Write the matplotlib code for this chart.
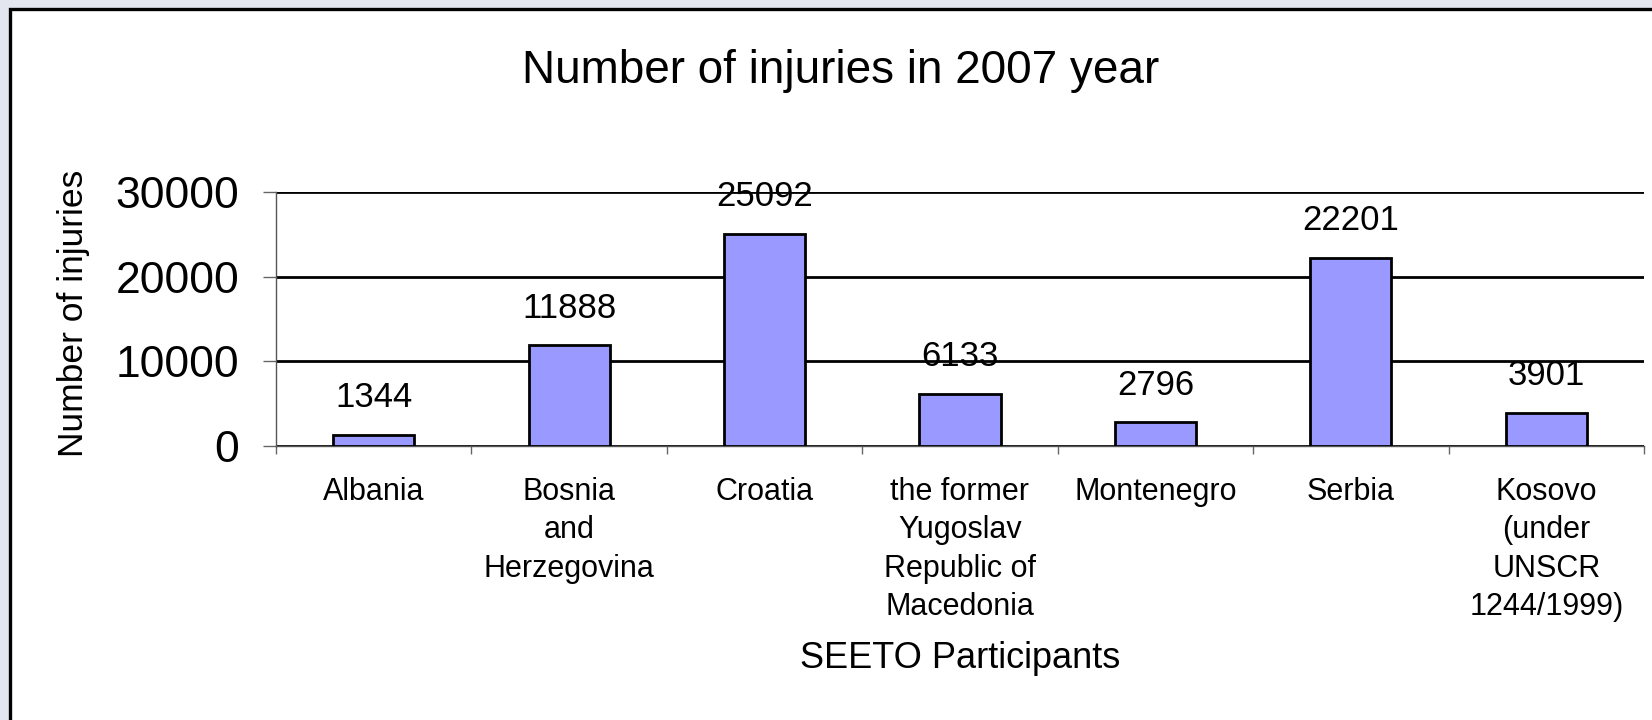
import matplotlib
matplotlib.use("Agg")
import matplotlib.pyplot as plt
from matplotlib.patches import Rectangle
import numpy as np

plt.rcParams['font.family'] = ['Liberation Sans', 'DejaVu Sans']

categories = ["Albania", "Bosnia\nand\nHerzegovina", "Croatia",
              "the former\nYugoslav\nRepublic of\nMacedonia", "Montenegro",
              "Serbia", "Kosovo\n(under\nUNSCR\n1244/1999)"]
values = [1344, 11888, 25092, 6133, 2796, 22201, 3901]
yticks = [0, 10000, 20000, 30000]
title = "Number of injuries in 2007 year"
ylabel = "Number of injuries"
xlabel = "SEETO Participants"

W, H = 1652, 720
fig = plt.figure(figsize=(W / 100, H / 100), dpi=100)
fig.patch.set_facecolor('#e3e6ee')

# white chart frame
frame = Rectangle((10 / W, -0.05), 1.2, 1 - 9 / H + 0.05, transform=fig.transFigure,
                  facecolor='white', edgecolor='black', linewidth=2.4, zorder=-10)
fig.patches.append(frame)

ax = fig.add_axes([276 / W, 1 - 446 / H, (1644 - 276) / W, (446 - 192) / H])
ax.set_zorder(5)
ax.set_facecolor('none')
x = np.arange(len(categories))
bars = ax.bar(x, values, width=0.415, color='#9999ff', edgecolor='black',
              linewidth=2.0, zorder=3)

ax.set_xlim(-0.5, len(categories) - 0.5)
ax.set_ylim(0, 30000)
ax.set_yticks(yticks)
ax.set_yticklabels([str(v) for v in yticks], fontsize=32)
ax.yaxis.grid(True, color='black', linewidth=2.0, zorder=1)
ax.set_axisbelow(True)

ax.set_xticks(x)
ax.set_xticklabels(categories, fontsize=22, linespacing=1.37)
ax.set_xticks(np.arange(-0.5, len(categories)), minor=True)
ax.tick_params(axis='x', which='major', length=0, pad=22)
ax.tick_params(axis='x', which='minor', length=6, color='#666666', width=1)
ax.tick_params(axis='y', length=9.5, color='#666666', width=1, pad=17)

for s in ['top', 'right']:
    ax.spines[s].set_visible(False)
for s in ['left', 'bottom']:
    ax.spines[s].set_color('#555555')
    ax.spines[s].set_linewidth(1)

for xi, v in zip(x, values):
    ax.annotate(str(v), (xi, v), xytext=(0, 20), textcoords='offset points',
                ha='center', va='baseline', fontsize=25, zorder=4)

fig.text(841 / W, 1 - 83 / H, title, ha='center', va='baseline', fontsize=33)
fig.text(73 / W, 1 - 313 / H, ylabel, ha='center', va='center', rotation=90, fontsize=25.5)
fig.text(960 / W, 1 - 668 / H, xlabel, ha='center', va='baseline', fontsize=26)

fig.savefig("out.png", dpi=100, facecolor=fig.get_facecolor())
